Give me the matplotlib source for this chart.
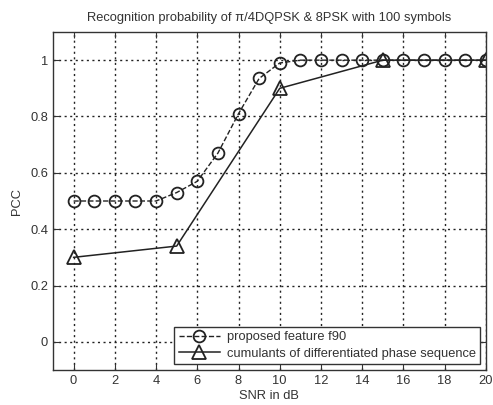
import matplotlib
matplotlib.use("Agg")
import matplotlib.pyplot as plt

plt.rcParams['font.family'] = ['Liberation Sans', 'DejaVu Sans']

snr_circ = list(range(0, 21))
pcc_f90 = [0.50, 0.50, 0.50, 0.50, 0.50, 0.53, 0.57, 0.67, 0.81, 0.935, 0.99,
           1.0, 1.0, 1.0, 1.0, 1.0, 1.0, 1.0, 1.0, 1.0, 1.0]
snr_tri = [0, 5, 10, 15, 20]
pcc_cum = [0.30, 0.34, 0.90, 1.0, 1.0]
xticks = list(range(0, 21, 2))
yticks = [0, 0.2, 0.4, 0.6, 0.8, 1]

FS = 9.3
fig = plt.figure(figsize=(4.93, 4.05), dpi=100)
ax = fig.add_axes([0.1075, 0.0864, 0.878, 0.8346])

ax.plot(snr_circ, pcc_f90, linestyle='--', color='#222222', lw=1.0,
        marker='o', markersize=8.5, markerfacecolor='none', markeredgecolor='#222222',
        markeredgewidth=1.3, label='proposed feature f90')
ax.plot(snr_tri, pcc_cum, linestyle='-', color='#222222', lw=1.1,
        marker='^', markersize=9.5, markerfacecolor='none', markeredgecolor='#222222',
        markeredgewidth=1.3, label='cumulants of differentiated phase sequence')

ax.set_xlim(-1, 20)
ax.set_ylim(-0.1, 1.1)
ax.set_xticks(xticks)
ax.set_xticklabels([str(t) for t in xticks])
ax.set_yticks(yticks)
ax.set_yticklabels(['0', '0.2', '0.4', '0.6', '0.8', '1'])
ax.grid(True, linestyle=(0, (1.5, 2.5)), color='#222222', lw=1.0)
ax.tick_params(direction='in', top=True, right=True, labelsize=FS, colors='#333333', length=4)
for s in ax.spines.values():
    s.set_color('#333333')
    s.set_linewidth(1.0)

ax.set_xlabel('SNR in dB', fontsize=FS, color='#333333', labelpad=2)
ax.set_ylabel('PCC', fontsize=FS, color='#333333', labelpad=5)
ax.set_title('Recognition probability of \u03c0/4DQPSK & 8PSK with 100 symbols',
             fontsize=FS, color='#333333', pad=8)

leg = ax.legend(loc='lower right', fontsize=FS, frameon=True, fancybox=False,
                edgecolor='#333333', framealpha=1, borderpad=0.35, labelspacing=0.35,
                handlelength=3.2, handletextpad=0.5, borderaxespad=0.45)
leg.get_frame().set_linewidth(1.0)
for t in leg.get_texts():
    t.set_color('#333333')

fig.savefig('out.png', dpi=100)
